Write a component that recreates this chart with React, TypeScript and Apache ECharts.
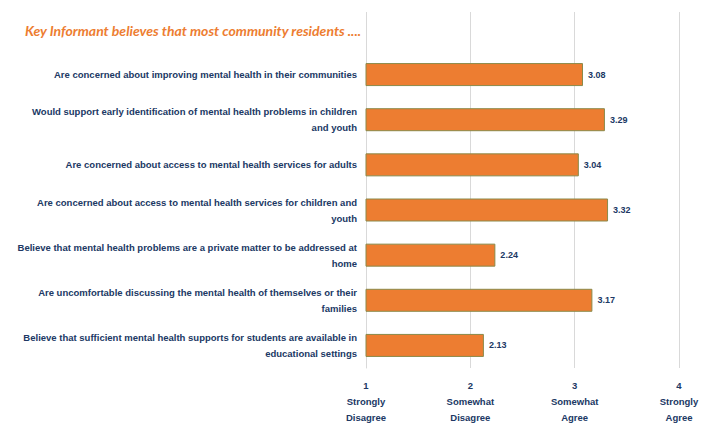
import React, { useEffect, useRef } from "react";
import * as echarts from "echarts";

const categories: string[] = [
  "Are concerned about improving mental health in their communities",
  "Would support early identification of mental health problems in children\nand youth",
  "Are concerned about access to mental health services for adults",
  "Are concerned about access to mental health services for children and\nyouth",
  "Believe that mental health problems are a private matter to be addressed at\nhome",
  "Are uncomfortable discussing the mental health of themselves or their\nfamilies",
  "Believe that sufficient mental health supports for students are available in\neducational settings",
];

const values: number[] = [3.08, 3.29, 3.04, 3.32, 2.24, 3.17, 2.13];

const tickLabels: Record<number, string> = {
  1: "Strongly\nDisagree",
  2: "Somewhat\nDisagree",
  3: "Somewhat\nAgree",
  4: "Strongly\nAgree",
};

const titleText = "Key Informant believes that most community residents ....";

const NAVY = "#203864";
const ORANGE = "#ED7D31";
const GRID = "#d9d9d9";
const SANS = "'Liberation Sans', Arial, sans-serif";

export default function App() {
  const ref = useRef<HTMLDivElement>(null);
  useEffect(() => {
    if (!ref.current) return;
    const chart = echarts.init(ref.current, undefined, { renderer: "svg" });
    chart.setOption({
      animation: false,
      backgroundColor: "#ffffff",
      graphic: [
        {
          type: "text",
          left: 25,
          top: 23,
          style: {
            text: titleText,
            fill: ORANGE,
            font: "italic bold 14px Lato, 'Open Sans', sans-serif",
          },
        },
      ],
      grid: [
        { left: 366, right: 33, top: 52, bottom: 55, containLabel: false, outerBoundsMode: "none" },
        { left: 366, right: 33, top: 12, height: 40, containLabel: false, outerBoundsMode: "none" },
      ],
      xAxis: [
        {
          type: "value",
          gridIndex: 0,
          min: 1,
          max: 4,
          interval: 1,
          axisLine: { show: false },
          axisTick: { show: false },
          splitLine: { show: true, lineStyle: { color: GRID, width: 1 } },
          axisLabel: {
            margin: 9,
            formatter: (v: number) => `{n|${v}}\n{t|${tickLabels[v] ?? ""}}`,
            rich: {
              n: { fontFamily: SANS, fontWeight: "bold", fontSize: 9.5, color: NAVY, lineHeight: 16, align: "center" },
              t: { fontFamily: SANS, fontWeight: "bold", fontSize: 9.5, color: NAVY, lineHeight: 16, align: "center" },
            },
          },
        },
        {
          type: "value",
          gridIndex: 1,
          min: 1,
          max: 4,
          interval: 1,
          axisLine: { show: false },
          axisTick: { show: false },
          axisLabel: { show: false },
          splitLine: { show: true, lineStyle: { color: GRID, width: 1 } },
        },
      ],
      yAxis: [
        {
          type: "category",
          gridIndex: 0,
          data: categories,
          inverse: true,
          axisLine: { show: true, lineStyle: { color: GRID } },
          axisTick: { show: false },
          axisLabel: {
            margin: 9,
            fontFamily: SANS,
            fontWeight: "bold",
            fontSize: 9.5,
            lineHeight: 16,
            color: NAVY,
            align: "right",
          },
        },
        {
          type: "value",
          gridIndex: 1,
          show: false,
        },
      ],
      series: [
        {
          type: "bar",
          xAxisIndex: 0,
          yAxisIndex: 0,
          data: values,
          barWidth: 23,
          itemStyle: { color: ORANGE, borderColor: "#8a8a4a", borderWidth: 1 },
          label: {
            show: true,
            position: "right",
            distance: 5,
            formatter: (p: any) => p.value.toFixed(2),
            fontFamily: SANS,
            fontWeight: "bold",
            fontSize: 9,
            color: NAVY,
          },
        },
      ],
    });
    return () => chart.dispose();
  }, []);
  return (
    <div
      ref={ref}
      style={{ position: "fixed", left: 0, top: 0, width: 712, height: 423 }}
    />
  );
}
